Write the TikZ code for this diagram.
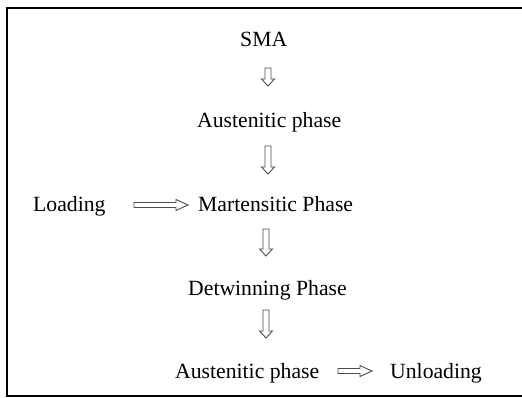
\documentclass[tikz,border=0pt]{standalone}
\usepackage{fontspec}
\setmainfont{Liberation Serif}
\usetikzlibrary{calc}
\newcommand\vblk[2]{%
  \draw[blk] ($(#1)+(-3,0)$) -- ($(#2)+(-3,-7)$) -- ($(#2)+(-6.5,-7)$) -- (#2)
    -- ($(#2)+(6.5,-7)$) -- ($(#2)+(3,-7)$) -- ($(#1)+(3,0)$) -- cycle;}
\newcommand\hblk[2]{%
  \draw[blk] ($(#1)+(0,-2.5)$) -- ($(#2)+(-12,-2.5)$) -- ($(#2)+(-12,-5.5)$) -- (#2)
    -- ($(#2)+(-12,5.5)$) -- ($(#2)+(-12,2.5)$) -- ($(#1)+(0,2.5)$) -- cycle;}
\begin{document}
\begin{tikzpicture}[x=1pt,y=-1pt,
  lbl/.style={inner sep=0pt,anchor=base west,font=\fontsize{21.7}{26}\selectfont},
  blk/.style={draw=black!70,line width=0.9pt,fill=white,line join=miter}]
\useasboundingbox (0,0) rectangle (522,397);
\begin{scope}
\clip (0,0) rectangle (522,397);
\draw[line width=2pt] (530,7.5) -- (6.5,7.5) -- (6.5,395.5) -- (530,395.5);
\end{scope}
\node[lbl] (sma) at (240,46) {SMA};
\node[lbl] (aus1) at (197,127) {Austenitic phase};
\node[lbl] (load) at (33,211) {Loading};
\node[lbl] (mart) at (198,211) {Martensitic Phase};
\node[lbl] (detw) at (188,295) {Detwinning Phase};
\node[lbl] (aus2) at (175,378) {Austenitic phase};
\node[lbl] (unld) at (390,378) {Unloading};
\coordinate (a1s) at (268,68);  \coordinate (a1e) at (268,86);
\coordinate (a2s) at (268,146); \coordinate (a2e) at (268,174);
\coordinate (a3s) at (266,229); \coordinate (a3e) at (266,256);
\coordinate (a4s) at (266,310); \coordinate (a4e) at (266,338);
\coordinate (h1s) at (134,205); \coordinate (h1e) at (188,205);
\coordinate (h2s) at (338,371); \coordinate (h2e) at (372,371);
\vblk{a1s}{a1e}
\vblk{a2s}{a2e}
\vblk{a3s}{a3e}
\vblk{a4s}{a4e}
\hblk{h1s}{h1e}
\hblk{h2s}{h2e}
\end{tikzpicture}
\end{document}
